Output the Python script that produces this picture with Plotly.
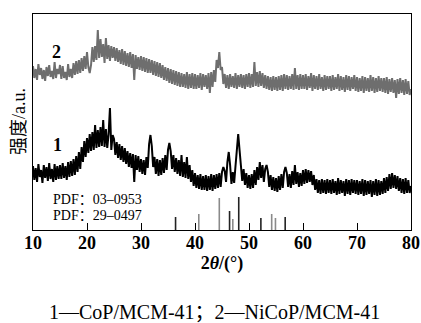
import plotly.graph_objects as go

# 2θ sampling start/step (degrees) and intensity readings (arbitrary units)
theta_start = 10.0
theta_step = 0.25

nicop_mcm41 = [
    164,152,161,150,166,155,162,151,160,149,163,154,165,153,159,151,168,152,161,156,
    165,151,164,152,158,150,166,153,161,152,167,155,169,156,170,157,172,159,174,161,
    178,163,157,165,183,168,184,170,200,172,191,173,186,167,192,171,185,169,184,172,
    183,169,182,168,180,166,181,165,179,164,177,163,178,162,176,150,175,161,173,160,
    174,159,173,158,172,157,171,157,170,155,169,154,168,153,167,152,165,150,163,149,
    162,147,161,146,160,145,159,144,158,143,157,143,156,142,158,141,156,142,157,141,
    156,141,155,142,157,140,156,143,155,141,157,137,158,143,160,148,170,162,178,160,
    163,146,156,142,155,141,156,143,154,142,157,141,155,143,156,142,155,141,156,143,
    157,142,156,143,168,144,158,143,159,144,157,142,155,141,154,140,153,139,154,140,
    153,139,154,140,155,139,156,141,155,140,154,141,156,140,162,141,155,140,156,141,
    155,141,156,140,154,142,157,139,155,141,154,140,156,141,153,139,155,140,154,141,
    154,139,155,140,153,141,156,139,154,140,153,138,155,140,154,139,153,141,155,139,
    153,138,152,139,154,137,153,139,152,138,155,139,153,137,152,138,154,139,152,138,
    152,137,153,136,151,138,152,137,150,132,151,136,152,137,150,135,151,136,149,135,
    141,
]

cop_mcm41 = [
    64,50,62,48,66,53,60,47,65,52,63,49,67,51,61,48,66,50,64,51,
    65,51,67,52,64,50,68,53,69,54,71,55,74,58,78,61,83,68,89,73,
    92,77,96,79,98,80,105,82,100,83,103,84,110,83,101,82,96,122,80,95,
    91,75,88,72,86,70,84,68,82,66,79,63,77,62,76,48,75,60,74,58,
    71,56,70,55,73,62,86,95,84,63,73,56,71,54,70,55,72,57,75,60,
    80,87,79,61,75,58,72,56,70,54,75,53,68,52,73,51,65,48,60,44,
    57,42,55,41,56,40,54,40,55,39,54,40,56,39,55,41,56,42,57,43,
    58,63,59,48,68,78,65,46,58,47,64,82,96,80,66,49,61,45,57,42,
    55,41,56,42,60,45,63,50,68,52,65,48,61,65,58,43,55,40,53,39,
    52,38,54,40,56,42,58,63,57,43,56,42,59,45,65,46,58,43,57,44,
    60,46,61,47,60,48,59,45,55,40,51,37,50,36,51,37,50,36,51,37,
    50,36,51,37,49,35,52,36,50,37,49,34,51,36,50,35,51,37,50,36,
    50,35,49,36,51,34,50,35,49,36,50,33,49,35,51,34,50,35,49,36,
    52,37,53,39,56,41,57,42,55,41,54,39,52,37,51,36,52,37,50,37,
    44,
]

# Reference card sticks
pdf_0953_pos = [36.4, 46.4, 48.1, 52.2, 56.7]
pdf_0953_int = [13, 19, 33, 12, 13]
pdf_0497_pos = [40.7, 44.5, 47.0, 54.2, 54.9]
pdf_0497_int = [16, 32, 11, 16, 12]

x_ticks = [10, 20, 30, 40, 50, 60, 70, 80]

theta = [theta_start + i * theta_step for i in range(len(cop_mcm41))]


def sticks(pos, inten):
    xs, ys = [], []
    for p, h in zip(pos, inten):
        xs += [p, p, None]
        ys += [0, h, None]
    return xs, ys


serif = "Liberation Serif, Noto Sans CJK SC, serif"

fig = go.Figure()
fig.add_trace(go.Scatter(x=theta, y=nicop_mcm41, mode="lines",
                         line=dict(color="#6e6e6e", width=2), showlegend=False))
fig.add_trace(go.Scatter(x=theta, y=cop_mcm41, mode="lines",
                         line=dict(color="#000000", width=2), showlegend=False))
sx, sy = sticks(pdf_0497_pos, pdf_0497_int)
fig.add_trace(go.Scatter(x=sx, y=sy, mode="lines",
                         line=dict(color="#8a8a8a", width=1.6), showlegend=False))
sx, sy = sticks(pdf_0953_pos, pdf_0953_int)
fig.add_trace(go.Scatter(x=sx, y=sy, mode="lines",
                         line=dict(color="#222222", width=1.6), showlegend=False))

fig.update_layout(
    width=421, height=323,
    margin=dict(l=33, r=10, t=14, b=93),
    plot_bgcolor="white", paper_bgcolor="white",
    font=dict(family=serif, color="black"),
    xaxis=dict(range=[10, 80], tickvals=x_ticks, ticktext=[str(v) for v in x_ticks],
               ticks="inside", ticklen=7, tickcolor="black", tickwidth=1,
               ticklabelstandoff=-4, ticklabeloverflow="allow", automargin=False,
               showline=True, linecolor="black", linewidth=1, mirror=True,
               showgrid=False, zeroline=False,
               tickfont=dict(family=serif, size=18, weight="bold"),
               title=dict(text="2<i>θ</i>/(°)", standoff=2,
                          font=dict(family=serif, size=18, weight="bold"))),
    yaxis=dict(range=[0, 216], showticklabels=False, ticks="", automargin=False,
               showline=True, linecolor="black", linewidth=1, mirror=True,
               showgrid=False, zeroline=False),
    annotations=[
        dict(x=-0.037, y=0.5, xref="paper", yref="paper", text="强度/a.u.",
             textangle=-90, showarrow=False, xanchor="center", yanchor="middle",
             font=dict(family=serif, size=18)),
        dict(x=14.4, y=178, xref="x", yref="y", text="2", showarrow=False,
             font=dict(family=serif, size=18, weight="bold")),
        dict(x=14.6, y=85, xref="x", yref="y", text="1", showarrow=False,
             font=dict(family=serif, size=18, weight="bold")),
        dict(x=13.3, y=31, xref="x", yref="y", text="PDF：03–0953", showarrow=False,
             xanchor="left", font=dict(family=serif, size=14)),
        dict(x=13.3, y=15, xref="x", yref="y", text="PDF：29–0497", showarrow=False,
             xanchor="left", font=dict(family=serif, size=14)),
        dict(x=0.48, y=-0.38, xref="paper", yref="paper", yanchor="middle",
             text="1—CoP/MCM-41；2—NiCoP/MCM-41", showarrow=False,
             font=dict(family=serif, size=20)),
    ],
)

fig.write_html("out.html", config={"displayModeBar": False},
               post_script="document.body.style.margin='0';")
